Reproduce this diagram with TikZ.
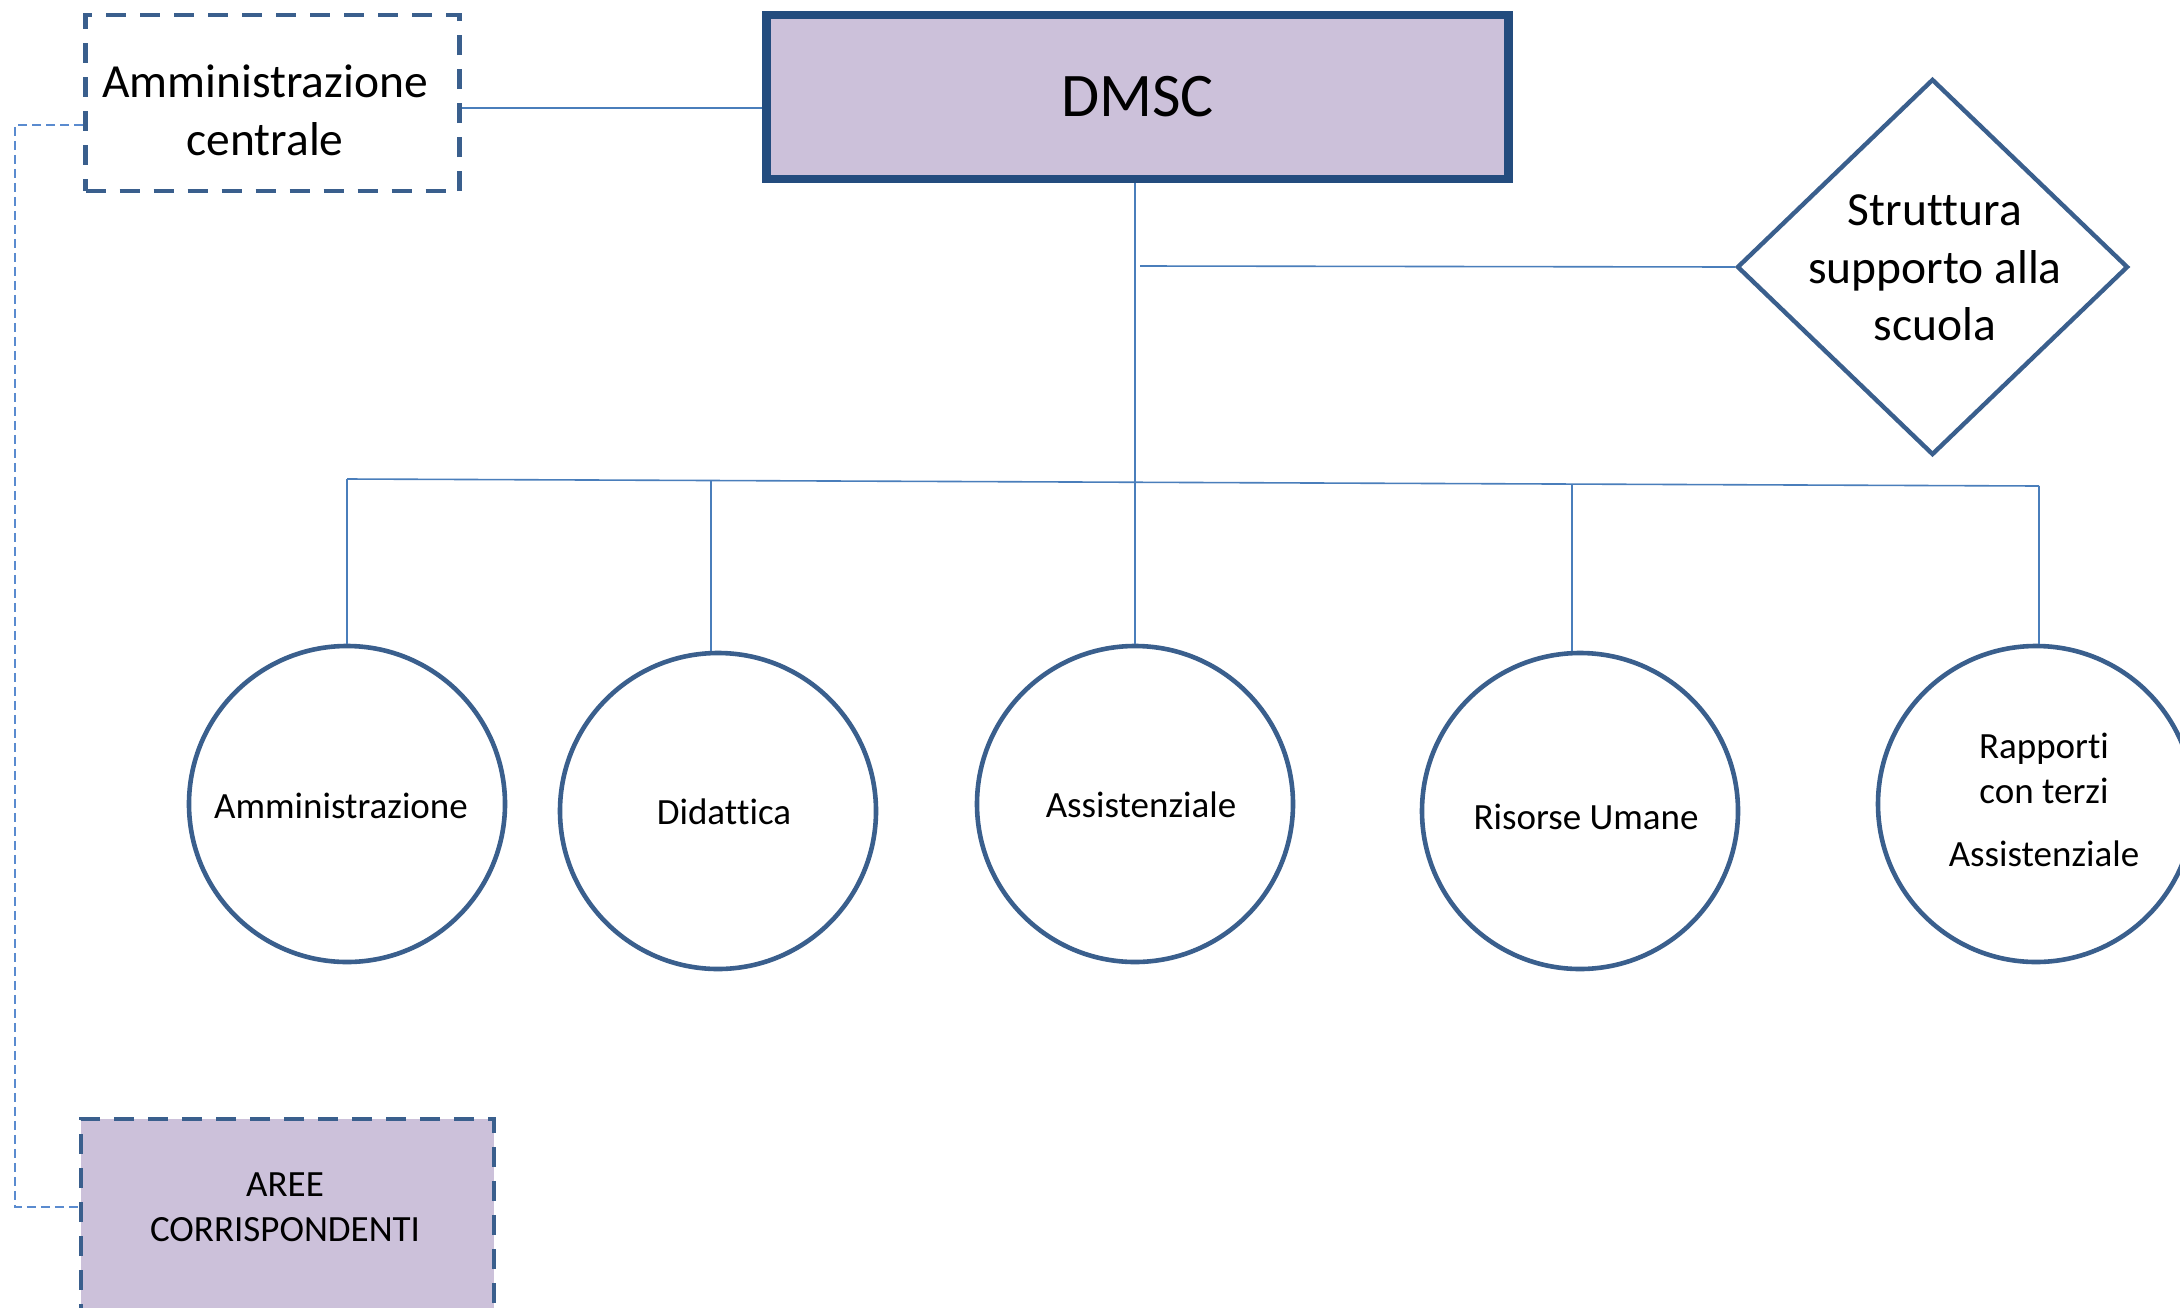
\documentclass[tikz,border=0pt]{standalone}
\usepackage{fontspec}
\setmainfont{Carlito}[Ligatures=NoCommon, RawFeature={-liga;-clig;-calt;-dlig}]
\usetikzlibrary{shapes.geometric}
\definecolor{boxline}{HTML}{3A5F8D}
\definecolor{dmscline}{HTML}{234C7E}
\definecolor{conn}{HTML}{4A7EBB}
\definecolor{dotconn}{HTML}{5A8BCF}
\definecolor{lav}{HTML}{CCC1DA}
\tikzset{
  dmscbox/.style={draw=dmscline, line width=4.3pt, fill=lav, minimum width=371pt, minimum height=82pt, inner sep=0pt},
  dashbox/.style={draw=boxline, line width=2.4pt, dash pattern=on 10pt off 7pt, inner sep=0pt},
  roundnode/.style={circle, draw=boxline, line width=2.3pt, fill=white, minimum size=158pt, inner sep=0pt},
  rhombnode/.style={diamond, draw=boxline, line width=2.2pt, fill=white, minimum width=195.5pt, minimum height=188pt, inner sep=0pt},
  bigtext/.style={align=center, inner sep=0pt, font=\fontsize{23.75}{28.75}\selectfont},
  smalltext/.style={align=center, inner sep=0pt, font=\fontsize{18.5}{22.5}\selectfont},
  connline/.style={draw=conn, line width=0.8pt},
  dotline/.style={draw=dotconn, line width=0.8pt, dash pattern=on 4.5pt off 2.5pt},
}
\begin{document}
\begin{tikzpicture}[x=0.5pt,y=-0.5pt]
\useasboundingbox (0,0) rectangle (2180,1307);
\fill[white] (0,0) rectangle (2180,1307);
\clip (0,0) rectangle (2180,1307);

% boxes
\node[dmscbox, font=\fontsize{31}{37}\selectfont] (dmsc) at (1137.5,97) {DMSC};
\node[dashbox, minimum width=187pt, minimum height=88pt] (ac) at (272.5,103) {};
\node[bigtext] (actext) at (265,110.5) {Amministrazione\\centrale};
\node[dashbox, fill=lav, minimum width=206.5pt, minimum height=140.5pt] (aree) at (287.5,1259.5) {};
\node[smalltext] (areetext) at (285,1207) {AREE\\CORRISPONDENTI};

% diamond
\node[rhombnode] (dia) at (1932.5,267) {};
\node[bigtext] (diatext) at (1935,268) {Strut\kern0pt tura\\supporto alla\\scuola};

% circles
\node[roundnode] (c1) at (347,804) {};
\node[roundnode] (c2) at (718,811) {};
\node[roundnode] (c3) at (1135,804) {};
\node[roundnode] (c4) at (1580,811) {};
\node[roundnode] (c5) at (2036,804) {};
\node[smalltext] (t1) at (341,806) {Amministrazione};
\node[smalltext] (t2) at (724,812) {Didat\kern0pt tica};
\node[smalltext] (t3) at (1141,805) {Assistenziale};
\node[smalltext] (t4) at (1586,817) {Risorse Umane};
\node[smalltext] (t5) at (2044,800) {Rapporti\\con terzi\\[9pt]Assistenziale};

% connectors
\draw[connline] ([yshift=-2.5pt]ac.east) -- ([yshift=-2.5pt]ac.east -| dmsc.west);
\draw[connline] (c3.north) -- (c3.north |- dmsc.south);
\coordinate (dbr) at (1140,266);
\draw[connline] (dia.west) -- (dbr);
\coordinate (busL) at (347,479);
\coordinate (busR) at (2039,486);
\draw[connline] (busL) -- (busR);
\draw[connline] (busL) -- (c1.north);
\coordinate (b2) at (711,480.5);
\draw[connline] (b2) -- (b2 |- c2.north);
\coordinate (b4) at (1572,484);
\draw[connline] (b4) -- (b4 |- c4.north);
\draw[connline] (busR) -- (busR |- c5.north);

% dotted link
\coordinate (dl1) at (15,125);
\coordinate (dl2) at (15,1207);
\draw[dotline] ([yshift=-11pt]ac.west) -- (dl1) -- (dl2) -- (dl2 -| aree.west);
\end{tikzpicture}
\end{document}
